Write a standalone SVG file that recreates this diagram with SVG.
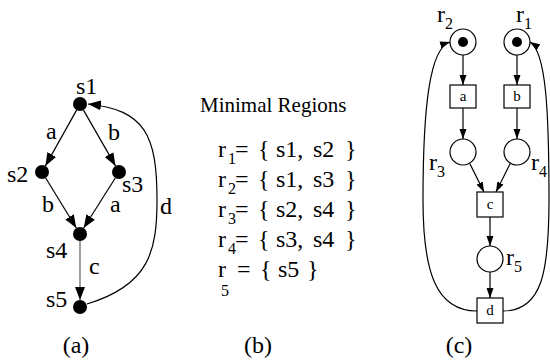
<svg xmlns="http://www.w3.org/2000/svg" width="550" height="364" viewBox="0 0 550 364">
<style>
text{font-family:"Liberation Serif","Times New Roman",serif;fill:#000}
.lbl{font-size:24px}
.t{font-size:24px}
.h{font-size:21px}
.sub{font-size:16px}
.tr{font-size:15px;text-anchor:middle}
.e{stroke:#000;stroke-width:1.2;fill:none}
.dot{fill:#000}
.pl{fill:#fff;stroke:#000;stroke-width:1.2}
.box{fill:#fff;stroke:#000;stroke-width:1.2}
</style>
<defs>
<marker id="ah" markerUnits="userSpaceOnUse" markerWidth="14" markerHeight="11" refX="13" refY="5.5" orient="auto"><path d="M0,0.5 L13,5.5 L0,10.5 z" fill="#000"/></marker>
<marker id="ahs" markerUnits="userSpaceOnUse" markerWidth="11" markerHeight="8" refX="10" refY="4" orient="auto"><path d="M0,0.5 L10,4 L0,7.5 z" fill="#000"/></marker>
</defs>
<rect width="550" height="364" fill="#fff"/>

<!-- (a) -->
<g id="connectors-a">
<line class="e" x1="76.6" y1="110.1" x2="45.4" y2="165.9" marker-end="url(#ah)"/>
<line class="e" x1="83.5" y1="110.1" x2="115.5" y2="165.9" marker-end="url(#ah)"/>
<line class="e" x1="45.7" y1="178" x2="76.3" y2="228" marker-end="url(#ah)"/>
<line class="e" x1="115.3" y1="178" x2="83.7" y2="228" marker-end="url(#ah)"/>
<line x1="80" y1="241" x2="80" y2="300" stroke="#777" stroke-width="1.4" marker-end="url(#ah)"/>
<path class="e" d="M87,304 C150,285 157,250 157,200 C157,135 145,110 88,104" marker-end="url(#ah)"/>
</g>
<g id="s1"><circle class="dot" cx="80" cy="104" r="7"/><text class="lbl" x="76" y="94">s1</text></g>
<g id="s2"><circle class="dot" cx="42" cy="172" r="7"/><text class="lbl" x="7" y="182">s2</text></g>
<g id="s3"><circle class="dot" cx="119" cy="172" r="7"/><text class="lbl" x="122" y="192">s3</text></g>
<g id="s4"><circle class="dot" cx="80" cy="234" r="7"/><text class="lbl" x="46" y="258">s4</text></g>
<g id="s5"><circle class="dot" cx="80" cy="307" r="7"/><text class="lbl" x="46" y="307">s5</text></g>
<g id="edge-labels-a">
<text class="lbl" x="46" y="139">a</text>
<text class="lbl" x="108" y="140">b</text>
<text class="lbl" x="42" y="212">b</text>
<text class="lbl" x="110" y="212">a</text>
<text class="lbl" x="89" y="274">c</text>
<text class="lbl" x="160" y="214">d</text>
</g>
<text class="lbl" x="76" y="353" text-anchor="middle">(a)</text>

<!-- (b) -->
<g id="regions">
<text class="h" x="200" y="112">Minimal Regions</text>
<text class="t" y="157"><tspan x="218">r</tspan><tspan class="sub" x="228" dy="7">1</tspan><tspan x="235" dy="-7">=</tspan><tspan x="258">{</tspan><tspan x="276">s1,</tspan><tspan x="313">s2</tspan><tspan x="345">}</tspan></text>
<text class="t" y="187"><tspan x="218">r</tspan><tspan class="sub" x="228" dy="7">2</tspan><tspan x="235" dy="-7">=</tspan><tspan x="258">{</tspan><tspan x="276">s1,</tspan><tspan x="313">s3</tspan><tspan x="345">}</tspan></text>
<text class="t" y="217"><tspan x="218">r</tspan><tspan class="sub" x="228" dy="7">3</tspan><tspan x="235" dy="-7">=</tspan><tspan x="258">{</tspan><tspan x="276">s2,</tspan><tspan x="313">s4</tspan><tspan x="345">}</tspan></text>
<text class="t" y="247"><tspan x="218">r</tspan><tspan class="sub" x="228" dy="7">4</tspan><tspan x="235" dy="-7">=</tspan><tspan x="258">{</tspan><tspan x="276">s3,</tspan><tspan x="313">s4</tspan><tspan x="345">}</tspan></text>
<text class="t" y="277"><tspan x="218">r</tspan><tspan x="237">=</tspan><tspan x="260">{</tspan><tspan x="278">s5</tspan><tspan x="307">}</tspan></text>
<text class="sub" x="221" y="296" font-size="13">5</text>
</g>
<text class="lbl" x="258" y="353" text-anchor="middle">(b)</text>

<!-- (c) -->
<g id="connectors-c">
<line class="e" x1="463" y1="55" x2="463" y2="85" marker-end="url(#ahs)"/>
<line class="e" x1="517" y1="55" x2="517" y2="85" marker-end="url(#ahs)"/>
<line class="e" x1="463" y1="108" x2="463" y2="139" marker-end="url(#ahs)"/>
<line class="e" x1="517" y1="108" x2="517" y2="139" marker-end="url(#ahs)"/>
<line class="e" x1="470" y1="164" x2="484" y2="192" marker-end="url(#ahs)"/>
<line class="e" x1="510" y1="164" x2="496" y2="192" marker-end="url(#ahs)"/>
<line class="e" x1="490" y1="217" x2="490" y2="246" marker-end="url(#ahs)"/>
<line class="e" x1="490" y1="272" x2="490" y2="298" marker-end="url(#ahs)"/>
<path class="e" d="M477,311 C436,311 423,272 423,200 C423,105 430,48 450,42" marker-end="url(#ahs)"/>
<path class="e" d="M503,311 C542,311 549,272 549,200 C549,110 546,52 530,42" marker-end="url(#ahs)"/>
</g>
<g id="p-r2"><circle class="pl" cx="463" cy="42" r="13"/><circle class="dot" cx="463" cy="42" r="5"/><text class="t" x="437" y="22">r<tspan class="sub" dy="7">2</tspan></text></g>
<g id="p-r1"><circle class="pl" cx="517" cy="42" r="13"/><circle class="dot" cx="517" cy="42" r="5"/><text class="t" x="516" y="22">r<tspan class="sub" dy="7">1</tspan></text></g>
<g id="t-a"><rect class="box" x="450" y="85" width="26" height="23"/><text class="tr" x="463" y="101">a</text></g>
<g id="t-b"><rect class="box" x="504" y="85" width="26" height="23"/><text class="tr" x="517" y="101">b</text></g>
<g id="p-r3"><circle class="pl" cx="463" cy="152" r="13"/><text class="t" x="429" y="170">r<tspan class="sub" dy="7">3</tspan></text></g>
<g id="p-r4"><circle class="pl" cx="517" cy="152" r="13"/><text class="t" x="531" y="170">r<tspan class="sub" dy="7">4</tspan></text></g>
<g id="t-c"><rect class="box" x="477" y="192" width="26" height="25"/><text class="tr" x="490" y="209">c</text></g>
<g id="p-r5"><circle class="pl" cx="490" cy="259" r="13"/><text class="t" x="506" y="265">r<tspan class="sub" dy="7">5</tspan></text></g>
<g id="t-d"><rect class="box" x="477" y="298" width="26" height="25"/><text class="tr" x="490" y="315">d</text></g>
<text class="lbl" x="459" y="353" text-anchor="middle">(c)</text>
</svg>
